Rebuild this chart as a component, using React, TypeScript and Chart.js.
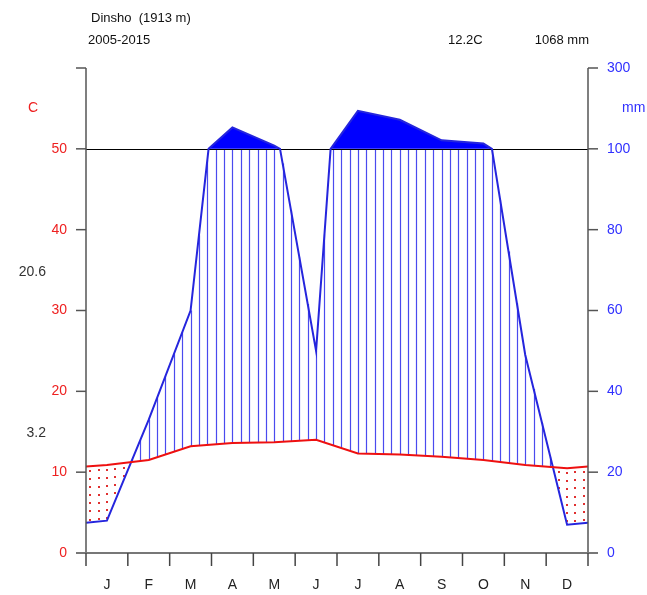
import { useEffect, useRef } from "react";
import { Chart, registerables } from "chart.js";
Chart.register(...registerables);

const months = ["J", "F", "M", "A", "M", "J", "J", "A", "S", "O", "N", "D"];
const temperature = [10.9, 11.5, 13.2, 13.6, 13.7, 14.0, 12.3, 12.2, 11.9, 11.5, 10.9, 10.5];
const precipitation = [8, 33, 60, 153, 108, 50, 194, 172, 121, 113, 49, 7];
const tempTicks = [0, 10, 20, 30, 40, 50];
const precipTicks = [0, 20, 40, 60, 80, 100, 300];
const stationTitle = "Dinsho  (1913 m)";
const period = "2005-2015";
const meanTempLabel = "12.2C";
const totalPrecipLabel = "1068 mm";
const maxWarmest = "20.6";
const minColdest = "3.2";

const FONT = '"Liberation Sans", Arial, sans-serif';

function mmToScale(mm: number) {
  return mm <= 100 ? mm / 2 : 50 + (mm - 100) / 20;
}

type P = { x: number; y: number };

function withEdges(arr: number[]) {
  const e = (arr[0] + arr[arr.length - 1]) / 2;
  return [{ x: 0, v: e }, ...arr.map((v, i) => ({ x: i + 0.5, v })), { x: 12, v: e }];
}

function tempPoints(): P[] {
  return withEdges(temperature).map((p) => ({ x: p.x, y: p.v }));
}

function precipPoints(): P[] {
  const raw = withEdges(precipitation);
  const out: P[] = [];
  for (let i = 0; i < raw.length; i++) {
    const a = raw[i];
    if (i > 0) {
      const b = raw[i - 1];
      if ((a.v - 100) * (b.v - 100) < 0) {
        const xc = b.x + ((100 - b.v) / (a.v - b.v)) * (a.x - b.x);
        out.push({ x: xc, y: 50 });
      }
    }
    out.push({ x: a.x, y: mmToScale(a.v) });
  }
  return out;
}

function interp(pts: P[], x: number) {
  for (let i = 1; i < pts.length; i++) {
    if (x <= pts[i].x) {
      const a = pts[i - 1], b = pts[i];
      return a.y + ((x - a.x) / (b.x - a.x)) * (b.y - a.y);
    }
  }
  return pts[pts.length - 1].y;
}

export default function App() {
  const ref = useRef<HTMLCanvasElement>(null);
  useEffect(() => {
    const tPts = tempPoints();
    const pPts = precipPoints();

    const underlay = {
      id: "underlay",
      beforeDatasetsDraw(chart: any) {
        const ctx = chart.ctx;
        const xs = chart.scales.x, ys = chart.scales.y;
        const X = (v: number) => xs.getPixelForValue(v);
        const Y = (v: number) => ys.getPixelForValue(v);
        ctx.save();
        // solid fill above 100 mm
        ctx.fillStyle = "#0000ff";
        ctx.beginPath();
        ctx.moveTo(X(0), Y(50));
        pPts.forEach((p) => ctx.lineTo(X(p.x), Y(Math.max(p.y, 50))));
        ctx.lineTo(X(12), Y(50));
        ctx.closePath();
        ctx.fill();
        // hatching / dots
        for (let k = 0; k < 60; k++) {
          const x = 0.1 + 0.2 * k;
          const t = interp(tPts, x);
          const p = interp(pPts, x);
          if (p > t) {
            ctx.strokeStyle = "#4a4aee";
            ctx.lineWidth = 1.2;
            ctx.beginPath();
            ctx.moveTo(Math.round(X(x)) + 0.5, Y(t));
            ctx.lineTo(Math.round(X(x)) + 0.5, Y(Math.min(p, 50)));
            ctx.stroke();
          } else {
            ctx.fillStyle = "#e03030";
            for (let y = t - 0.6; y > p + 0.2; y -= 1) {
              ctx.fillRect(Math.round(X(x)) - 1, Math.round(Y(y)) - 1, 2, 2);
            }
          }
        }
        // line at 50
        ctx.strokeStyle = "#000";
        ctx.lineWidth = 1;
        ctx.beginPath();
        ctx.moveTo(X(0), Math.round(Y(50)) + 0.5);
        ctx.lineTo(X(12), Math.round(Y(50)) + 0.5);
        ctx.stroke();
        ctx.restore();
      },
      afterDraw(chart: any) {
        const ctx = chart.ctx;
        const xs = chart.scales.x, ys = chart.scales.y;
        const X = (v: number) => xs.getPixelForValue(v);
        const Y = (v: number) => ys.getPixelForValue(v);
        const L = X(0), R = X(12), B = Y(0), T = Y(60);
        ctx.save();
        // left axis
        ctx.strokeStyle = "#555";
        ctx.lineWidth = 1.5;
        ctx.beginPath();
        ctx.moveTo(L, B);
        ctx.lineTo(L, T);
        ctx.stroke();
        [...tempTicks, 60].forEach((v) => {
          ctx.beginPath();
          ctx.moveTo(L - 10, Y(v));
          ctx.lineTo(L, Y(v));
          ctx.stroke();
        });
        // right axis
        ctx.beginPath();
        ctx.moveTo(R, B);
        ctx.lineTo(R, T);
        ctx.stroke();
        precipTicks.forEach((v) => {
          ctx.beginPath();
          ctx.moveTo(R, Y(mmToScale(v)));
          ctx.lineTo(R + 10, Y(mmToScale(v)));
          ctx.stroke();
        });
        // bottom axis
        ctx.strokeStyle = "#777";
        ctx.lineWidth = 2;
        ctx.beginPath();
        ctx.moveTo(L - 10, B);
        ctx.lineTo(R + 10, B);
        ctx.stroke();
        ctx.strokeStyle = "#444";
        ctx.lineWidth = 1.5;
        for (let i = 0; i <= 12; i++) {
          ctx.beginPath();
          ctx.moveTo(X(i), B);
          ctx.lineTo(X(i), B + 13);
          ctx.stroke();
        }
        ctx.font = `14px ${FONT}`;
        ctx.textBaseline = "middle";
        ctx.fillStyle = "#222";
        ctx.textAlign = "center";
        months.forEach((m, i) => ctx.fillText(m, X(i + 0.5), 585));
        // left labels
        ctx.fillStyle = "#ee2020";
        ctx.textAlign = "right";
        tempTicks.forEach((v) => ctx.fillText(String(v), L - 19, Y(v)));
        ctx.textAlign = "center";
        ctx.fillText("C", 33, 108);
        // right labels
        ctx.fillStyle = "#3030ff";
        ctx.textAlign = "left";
        precipTicks.forEach((v) => ctx.fillText(String(v), R + 19, Y(mmToScale(v))));
        ctx.fillText("mm", 622, 108);
        // extremes
        ctx.fillStyle = "#333";
        ctx.textAlign = "right";
        ctx.fillText(maxWarmest, 46, 272);
        ctx.fillText(minColdest, 46, 433);
        // header
        ctx.font = `13px ${FONT}`;
        ctx.fillStyle = "#111";
        ctx.textAlign = "left";
        ctx.fillText(stationTitle, 91, 18);
        ctx.fillText(period, 88, 40);
        ctx.fillText(meanTempLabel, 448, 40);
        ctx.textAlign = "right";
        ctx.fillText(totalPrecipLabel, 589, 40);
        ctx.restore();
      },
    };

    const chart = new Chart(ref.current!, {
      type: "line",
      data: {
        datasets: [
          {
            data: tPts,
            borderColor: "#ee1010",
            borderWidth: 2,
            pointRadius: 0,
            tension: 0,
          },
          {
            data: pPts,
            borderColor: "#2525dd",
            borderWidth: 2,
            pointRadius: 0,
            tension: 0,
          },
        ],
      },
      options: {
        responsive: false,
        animation: false,
        devicePixelRatio: 1,
        layout: { padding: { left: 86, right: 59, top: 68, bottom: 42 } },
        scales: {
          x: { type: "linear", min: 0, max: 12, display: false },
          y: { type: "linear", min: 0, max: 60, display: false },
        },
        plugins: { legend: { display: false }, tooltip: { enabled: false }, title: { display: false } },
      } as any,
      plugins: [underlay],
    });
    return () => chart.destroy();
  }, []);
  return (
    <div style={{ position: "absolute", left: 0, top: 0, width: 647, height: 595, background: "#fff" }}>
      <canvas ref={ref} width={647} height={595} />
    </div>
  );
}
